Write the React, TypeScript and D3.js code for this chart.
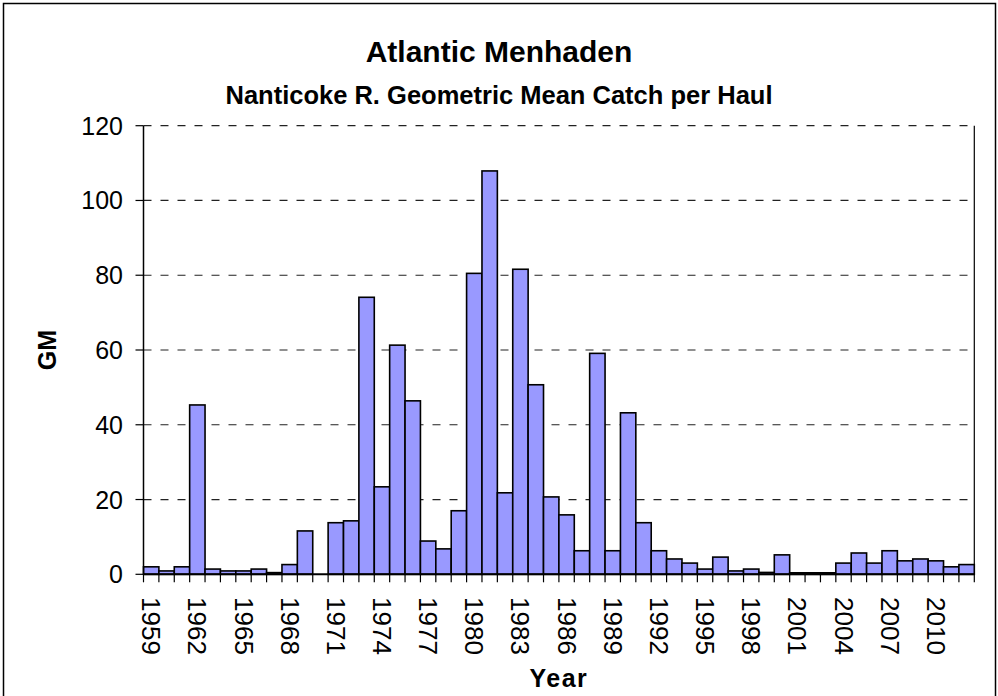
import React from "react";
import * as d3 from "d3";

const years: number[] = d3.range(1959, 2013);
const gmValues: number[] = [
  2.0, 0.9, 2.0, 45.3, 1.4, 0.9, 0.9, 1.4, 0.45, 2.6,
  11.6, 0, 13.8, 14.3, 74.1, 23.4, 61.3, 46.4, 8.9, 6.8,
  17.0, 80.5, 107.9, 21.8, 81.6, 50.7, 20.7, 15.9, 6.3, 59.1,
  6.3, 43.2, 13.8, 6.3, 4.1, 3.0, 1.4, 4.6, 0.9, 1.4,
  0.5, 5.2, 0.4, 0.4, 0.4, 3.0, 5.7, 3.0, 6.3, 3.6,
  4.1, 3.6, 2.0, 2.6,
];
const yTicks: number[] = [0, 20, 40, 60, 80, 100, 120];
const xLabelYears: number[] = d3.range(1959, 2011, 3);

const title = "Atlantic Menhaden";
const subtitle = "Nanticoke R. Geometric Mean Catch per Haul";
const xTitle = "Year";
const yTitle = "GM";

const W = 998;
const H = 696;
const FONT = "Arial, 'Liberation Sans', sans-serif";

export default function App() {
  const left = 143.5;
  const right = 974.3;
  const top = 125.7;
  const bottom = 574.3;

  const x = d3
    .scaleBand<number>()
    .domain(years)
    .range([left, right])
    .paddingInner(0)
    .paddingOuter(0);
  const y = d3.scaleLinear().domain([0, 120]).range([bottom, top]);
  const bw = x.bandwidth();

  return (
    <svg
      width={W}
      height={H}
      style={{ position: "absolute", left: 0, top: 0, background: "#fff" }}
      fontFamily={FONT}
    >
      <rect x={0} y={0} width={W} height={H} fill="#fff" />
      <rect x={3.5} y={3.5} width={992} height={720} fill="none" stroke="#000" strokeWidth={1.5} />

      <text x={499} y={62} textAnchor="middle" fontSize={30} fontWeight="bold">
        {title}
      </text>
      <text x={499} y={104} textAnchor="middle" fontSize={25.5} fontWeight="bold">
        {subtitle}
      </text>

      {/* gridlines */}
      {yTicks.filter((t) => t > 0).map((t) => (
        <line
          key={"g" + t}
          x1={left}
          x2={right}
          y1={y(t)}
          y2={y(t)}
          stroke="#222"
          strokeWidth={1.2}
          strokeDasharray="8,9"
        />
      ))}

      {/* right border */}
      <line x1={right} x2={right} y1={top} y2={bottom} stroke="#000" strokeWidth={1.2} />

      {/* bars */}
      {years.map((yr, i) =>
        gmValues[i] > 0 ? (
          <rect
            key={"b" + yr}
            x={x(yr)!}
            y={y(gmValues[i])}
            width={bw}
            height={y(0) - y(gmValues[i])}
            fill="#9999FF"
            stroke="#000"
            strokeWidth={1.6}
          />
        ) : null
      )}

      {/* y axis */}
      <line x1={left} x2={left} y1={top} y2={bottom} stroke="#000" strokeWidth={1.5} />
      {yTicks.map((t) => (
        <g key={"yt" + t}>
          <line x1={left - 8} x2={left} y1={y(t)} y2={y(t)} stroke="#000" strokeWidth={1.2} />
          <text
            x={123}
            y={y(t)}
            textAnchor="end"
            dominantBaseline="central"
            fontSize={25}
          >
            {t}
          </text>
        </g>
      ))}

      {/* x axis */}
      <line x1={left} x2={right} y1={bottom} y2={bottom} stroke="#000" strokeWidth={2} />
      {years.concat([2013]).map((yr, i) => {
        const xx = left + i * bw;
        return (
          <line key={"xt" + yr} x1={xx} x2={xx} y1={bottom} y2={bottom + 8} stroke="#000" strokeWidth={1.2} />
        );
      })}
      {xLabelYears.map((yr) => {
        const cx = x(yr)! + bw / 2;
        return (
          <text
            key={"xl" + yr}
            transform={`translate(${cx},597) rotate(90)`}
            textAnchor="start"
            dominantBaseline="central"
            fontSize={26}
          >
            {yr}
          </text>
        );
      })}

      <text
        x={(left + right) / 2}
        y={687}
        textAnchor="middle"
        fontSize={25}
        fontWeight="bold"
        letterSpacing={1.5}
      >
        {xTitle}
      </text>
      <text
        transform={`translate(56,${(top + bottom) / 2}) rotate(-90)`}
        textAnchor="middle"
        fontSize={25}
        fontWeight="bold"
      >
        {yTitle}
      </text>
    </svg>
  );
}
